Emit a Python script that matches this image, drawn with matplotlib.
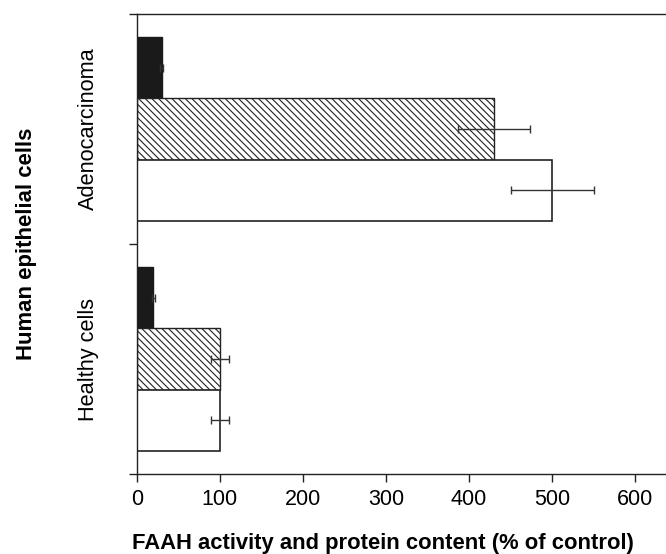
import matplotlib
matplotlib.use('Agg')
import matplotlib.pyplot as plt
import numpy as np

plt.rcParams['font.family'] = ['Liberation Sans', 'DejaVu Sans']
plt.rcParams['hatch.linewidth'] = 0.8

# data
groups = ['Adenocarcinoma', 'Healthy cells']
black_vals = [30, 20]
black_err = [2, 2]
hatch_vals = [430, 100]
hatch_err = [43, 11]
white_vals = [500, 100]
white_err = [50, 11]
xticks = [0, 100, 200, 300, 400, 500, 600]

fig = plt.figure(figsize=(6.66, 5.54), dpi=100)
ax = fig.add_axes([0.2053, 0.1444, 0.7947, 0.8303])

centers = np.array([0.5, 1.5])
h = 0.267
ekw = dict(ecolor='#333333', elinewidth=1.0, capsize=3, capthick=1.0)

ax.barh(centers - h, black_vals, height=h, color='#1a1a1a', edgecolor='#1a1a1a', linewidth=1)
ax.barh(centers, hatch_vals, height=h, color='white', edgecolor='#222222', linewidth=1, hatch='\\\\\\\\\\')
ax.barh(centers + h, white_vals, height=h, color='white', edgecolor='#222222', linewidth=1.2)

ax.errorbar(black_vals, centers - h, xerr=black_err, fmt='none', **ekw)
ax.errorbar(hatch_vals, centers, xerr=hatch_err, fmt='none', **ekw)
ax.errorbar(white_vals, centers + h, xerr=white_err, fmt='none', **ekw)

ax.set_xlim(0, 637)
ax.set_ylim(2, 0)
ax.set_xticks(xticks)
ax.set_xticklabels([str(t) for t in xticks], fontsize=15.5)
ax.set_yticks([0, 1, 2])
ax.set_yticklabels([])
ax.set_yticks(centers, minor=True)
ax.set_yticklabels(groups, minor=True, rotation=90, va='center', fontsize=15.7)
ax.tick_params(axis='y', which='minor', length=0, pad=27)
ax.tick_params(axis='both', which='major', length=6, width=1, color='#222222', direction='out')
ax.tick_params(axis='x', pad=5)

for s in ['left', 'top', 'bottom']:
    ax.spines[s].set_linewidth(1)
    ax.spines[s].set_color('#222222')
ax.spines['right'].set_visible(False)

ax.set_xlabel('FAAH activity and protein content (% of control)', fontsize=15.8, fontweight='bold')
ax.xaxis.set_label_coords(0.465, -0.128)
ax.set_ylabel('Human epithelial cells', fontsize=15.9, fontweight='bold', labelpad=30)

fig.savefig('out.png', dpi=100)
